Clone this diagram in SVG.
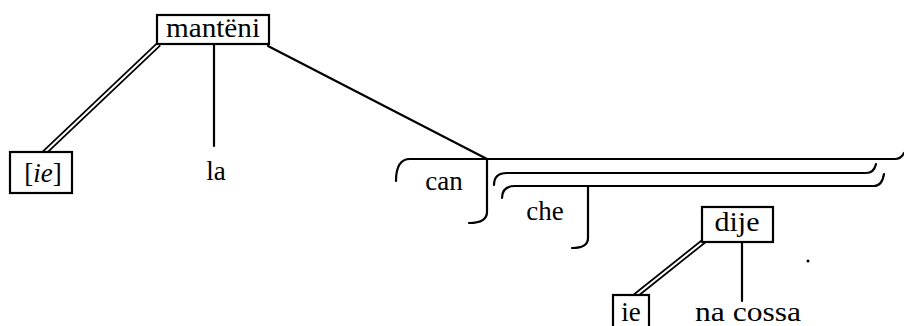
<svg xmlns="http://www.w3.org/2000/svg" width="904" height="326" viewBox="0 0 904 326">
<style>
.ln{fill:none;stroke:#000;stroke-width:2.2;stroke-linecap:round}
.dbo{fill:none;stroke:#000;stroke-width:5.5}
.dbi{fill:none;stroke:#fff;stroke-width:2}
.box{fill:#fff;stroke:#000;stroke-width:2.2}
.t{font-size:27px;fill:#000;text-anchor:middle}
</style>
<rect width="904" height="326" fill="#fff"/>
<g id="connectors">
<path class="dbo" d="M159,44 L44,153"/>
<path class="dbi" d="M159,44 L44,153"/>
<path class="dbo" d="M704,241 L635,296"/>
<path class="dbi" d="M704,241 L635,296"/>
<path class="ln" d="M214,44 L214,146"/>
<path class="ln" d="M268,46 L487,159"/>
<path class="ln" d="M742,242 L742,301"/>
<path class="ln" d="M396,181 Q396,159 410,159 L895,159 Q901,159 904,153"/>
<path class="ln" d="M487,159 L487,212 Q487,223 469,223"/>
<path class="ln" d="M494,185 Q494,173 507,173 L866,173 Q874,173 876,164"/>
<path class="ln" d="M502,198 Q502,186 515,186 L874,186 Q882,186 884,174"/>
<path class="ln" d="M588,186 L588,238 Q588,248 572,248"/>
</g>
<g font-family="Liberation Serif, DejaVu Serif, Times New Roman, serif">
<g id="node-manteni"><rect class="box" x="157" y="15" width="112" height="29"/><text class="t" x="213" y="37" textLength="94" lengthAdjust="spacingAndGlyphs">mantëni</text></g>
<g id="node-ie1"><rect class="box" x="10" y="152" width="62" height="41"/><text class="t" x="43" y="182">[<tspan font-style="italic">ie</tspan>]</text></g>
<g id="node-la"><text class="t" x="216" y="180">la</text></g>
<g id="node-can"><text class="t" x="444" y="190">can</text></g>
<g id="node-che"><text class="t" x="545" y="220">che</text></g>
<g id="node-dije"><rect class="box" x="702" y="207" width="71" height="35"/><text class="t" x="737" y="231" textLength="45" lengthAdjust="spacingAndGlyphs">dije</text></g>
<g id="node-ie2"><rect class="box" x="613" y="295" width="36" height="40"/><text class="t" x="631" y="321">ie</text></g>
<g id="node-nacossa"><text class="t" x="748" y="321" textLength="106" lengthAdjust="spacingAndGlyphs">na cossa</text></g>
</g>
<circle cx="808" cy="261" r="1.5" fill="#000"/>
</svg>
